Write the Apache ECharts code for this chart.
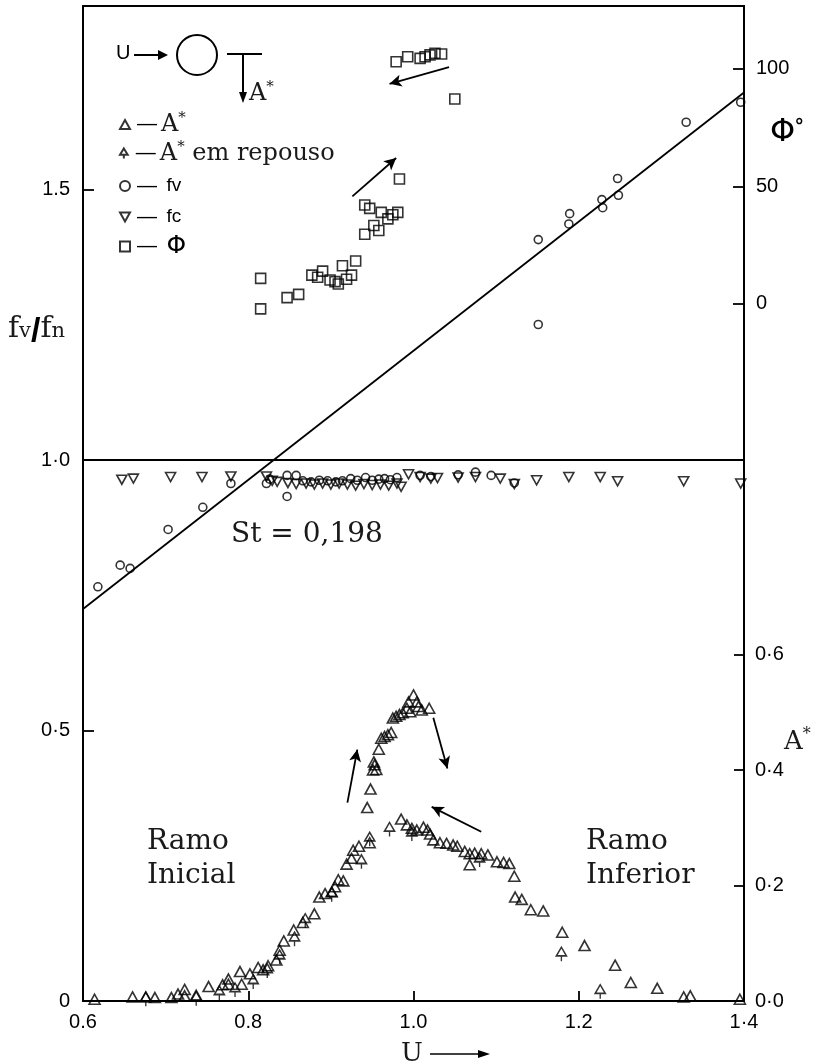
<!DOCTYPE html>
<html>
<head>
<meta charset="utf-8">
<script src="https://cdn.jsdelivr.net/npm/echarts@6/dist/echarts.min.js"></script>
<style>
  html, body { margin: 0; padding: 0; background: #fff; }
  #chart { width: 816px; height: 1064px; }
</style>
</head>
<body>
<div id="chart"></div>
<script>
// valores: [U, valor]
const fvPoints = [
  [0.618, 0.766], [0.645, 0.806], [0.657, 0.800], [0.703, 0.872], [0.745, 0.913],
  [0.779, 0.957], [0.822, 0.957], [0.826, 0.965], [0.847, 0.972], [0.847, 0.933],
  [0.858, 0.972], [0.866, 0.962], [0.876, 0.960], [0.886, 0.963], [0.896, 0.962],
  [0.906, 0.960], [0.914, 0.962], [0.924, 0.966], [0.932, 0.963], [0.942, 0.968],
  [0.950, 0.963], [0.958, 0.965], [0.965, 0.966], [0.972, 0.964], [0.980, 0.968],
  [1.008, 0.972], [1.021, 0.970], [1.054, 0.973], [1.075, 0.978], [1.094, 0.972],
  [1.122, 0.958], [1.151, 1.251], [1.151, 1.408], [1.188, 1.437], [1.189, 1.456],
  [1.228, 1.482], [1.229, 1.467], [1.247, 1.521], [1.248, 1.490], [1.330, 1.625],
  [1.396, 1.662]
];
const fcPoints = [
  [0.647, 0.964], [0.661, 0.966], [0.706, 0.969], [0.744, 0.969], [0.779, 0.970],
  [0.822, 0.970], [0.829, 0.962], [0.835, 0.960], [0.848, 0.958], [0.858, 0.956],
  [0.870, 0.957], [0.880, 0.955], [0.890, 0.957], [0.900, 0.955], [0.910, 0.957],
  [0.920, 0.955], [0.930, 0.953], [0.940, 0.956], [0.950, 0.954], [0.960, 0.955],
  [0.970, 0.953], [0.980, 0.957], [0.985, 0.951], [0.994, 0.974], [1.008, 0.969],
  [1.021, 0.966], [1.029, 0.967], [1.054, 0.968], [1.075, 0.969], [1.105, 0.966],
  [1.122, 0.956], [1.149, 0.963], [1.188, 0.969], [1.226, 0.969], [1.247, 0.961],
  [1.327, 0.961], [1.396, 0.957]
];
const phiPoints = [
  [0.815, 10.9], [0.815, -2.1], [0.847, 2.7], [0.861, 4.1], [0.877, 12.3],
  [0.884, 11.4], [0.890, 14.0], [0.899, 10.2], [0.905, 9.5], [0.909, 8.5],
  [0.914, 16.3], [0.919, 10.5], [0.925, 12.3], [0.930, 18.3], [0.941, 29.7],
  [0.941, 42.1], [0.947, 40.7], [0.952, 33.4], [0.958, 31.3], [0.961, 39.0],
  [0.969, 36.2], [0.975, 38.0], [0.981, 39.0], [0.983, 53.2], [0.979, 103.1],
  [0.993, 105.2], [1.008, 104.5], [1.014, 105.2], [1.020, 106.0], [1.026, 106.7],
  [1.034, 106.4], [1.050, 87.2]
];
const ampPoints = [
  [0.614, 0.003], [0.660, 0.007], [0.676, 0.007], [0.687, 0.006], [0.707, 0.006],
  [0.715, 0.012], [0.723, 0.020], [0.723, 0.009], [0.737, 0.010], [0.752, 0.025],
  [0.769, 0.028], [0.776, 0.038], [0.776, 0.029], [0.790, 0.051], [0.792, 0.029],
  [0.802, 0.047], [0.812, 0.058], [0.818, 0.054], [0.824, 0.061], [0.834, 0.071],
  [0.838, 0.088], [0.843, 0.104], [0.855, 0.123], [0.866, 0.136], [0.880, 0.151],
  [0.886, 0.180], [0.893, 0.186], [0.901, 0.189], [0.905, 0.198], [0.909, 0.210],
  [0.915, 0.208], [0.919, 0.237], [0.925, 0.247], [0.927, 0.261], [0.934, 0.268],
  [0.947, 0.274],
  [0.944, 0.335], [0.948, 0.367], [0.951, 0.400], [0.953, 0.409], [0.955, 0.401],
  [0.952, 0.414], [0.958, 0.436], [0.961, 0.455], [0.965, 0.458], [0.969, 0.461],
  [0.973, 0.465], [0.975, 0.490], [0.979, 0.493], [0.983, 0.496], [0.987, 0.499],
  [0.992, 0.507], [0.994, 0.518], [1.000, 0.530], [1.004, 0.518], [1.006, 0.510],
  [0.996, 0.501], [1.010, 0.504], [1.019, 0.507],
  [0.985, 0.315], [0.992, 0.305], [0.998, 0.299], [1.004, 0.296], [1.012, 0.301],
  [1.017, 0.296], [1.020, 0.289], [1.024, 0.279], [1.032, 0.274], [1.040, 0.273],
  [1.048, 0.270], [1.053, 0.268], [1.062, 0.259], [1.068, 0.255], [1.074, 0.256],
  [1.082, 0.255], [1.090, 0.253], [1.068, 0.236], [1.101, 0.241], [1.109, 0.240],
  [1.116, 0.238], [1.122, 0.216], [1.123, 0.180], [1.131, 0.176], [1.142, 0.158],
  [1.157, 0.156], [1.180, 0.119], [1.207, 0.096], [1.244, 0.062], [1.263, 0.032],
  [1.295, 0.022], [1.327, 0.007], [1.335, 0.009], [1.395, 0.003]
];
const restPoints = [
  [0.676, 0.003], [0.737, 0.004], [0.765, 0.014], [0.784, 0.019], [0.806, 0.033],
  [0.823, 0.052], [0.838, 0.076], [0.856, 0.107], [0.869, 0.139], [0.901, 0.184],
  [0.937, 0.241], [0.947, 0.280], [0.971, 0.297], [0.998, 0.289], [1.080, 0.244],
  [1.179, 0.081], [1.226, 0.016]
];
// reta St = 0,198
const stLine = [[0.6, 0.725], [1.4, 1.68]];

const xTicks = [0.6, 0.8, 1.0, 1.2, 1.4];
const xTickLabels = ['0.6', '0.8', '1.0', '1.2', '1·4'];
const fTicks = [0, 0.5, 1.0, 1.5];
const fTickLabels = ['0', '0·5', '1·0', '1.5'];
const ampTicks = [0, 0.2, 0.4, 0.6];
const ampTickLabels = ['0·0', '0·2', '0·4', '0·6'];
const phiTicks = [0, 50, 100];
const phiTickLabels = ['0', '50', '100'];

const SERIF = "'DejaVu Serif', serif";
const SANS = "'Liberation Sans', Arial, sans-serif";
const TXT = '#1a1a1a';

const triUp = 'path://M5,0 L10,9 L0,9 Z';
const triDown = 'path://M0,0 L10,0 L5,9 Z';
const triStem = 'path://M5,0 L10,8 L0,8 Z M5,8 L5,13';

function lookup(ticks, labels) {
  return function (v) {
    for (let i = 0; i < ticks.length; i++) {
      if (Math.abs(ticks[i] - v) < 1e-6) return labels[i];
    }
    return '';
  };
}

const markerStyle = { color: 'rgba(255,255,255,0)', borderColor: '#000', borderWidth: 1.6 };
const labelFont = { fontFamily: SANS, fontSize: 20, color: '#000' };

// setas de anotação (coordenadas no eixo fv/fn)
const arrowSegs = [
  [[1.043, 1.727], [0.971, 1.696]],
  [[0.926, 1.488], [0.979, 1.559]],
  [[0.920, 0.367], [0.932, 0.465]],
  [[1.024, 0.524], [1.041, 0.430]],
  [[1.082, 0.313], [1.022, 0.359]]
];

// legenda: uma linha por componente para controlar o espaçamento
const legendRich = {
  d: { fontFamily: SANS, fontSize: 20, color: '#000', padding: [0, 4, 0, 2] },
  s: { fontFamily: SERIF, fontSize: 24, color: TXT },
  sup: { fontFamily: SERIF, fontSize: 15, color: TXT, padding: [0, 0, 12, 0] },
  t: { fontFamily: SANS, fontSize: 19, color: '#000' },
  p: { fontFamily: "'DejaVu Sans', sans-serif", fontSize: 25, color: '#000' }
};
const legendRows = [
  { name: 'A*', icon: triUp, text: '{d|—}{s|A}{sup|*}', top: 111 },
  { name: 'A* em repouso', icon: triStem, text: '{d|—}{s|A}{sup|*}{s| em repouso}', top: 140 },
  { name: 'fv', icon: 'circle', text: '{d|— }{t|fv}', top: 176 },
  { name: 'fc', icon: triDown, text: '{d|— }{t|fc}', top: 207 },
  { name: 'Φ', icon: 'rect', text: '{d|— }{p|Φ}', top: 234 }
];
const legends = legendRows.map(function (r) {
  return {
    left: 119,
    top: r.top,
    padding: 0,
    itemWidth: 10,
    itemHeight: 10,
    selectedMode: false,
    data: [{ name: r.name, icon: r.icon }],
    formatter: function () { return r.text; },
    textStyle: { color: TXT, rich: legendRich }
  };
});

const chart = echarts.init(document.getElementById('chart'));

const options = {
  animation: false,
  backgroundColor: '#fff',
  grid: {
    left: 83, right: 72, top: 6, bottom: 63,
    show: true, borderColor: '#000', borderWidth: 1.8, backgroundColor: 'transparent'
  },
  legend: legends,
  xAxis: {
    type: 'value',
    min: 0.6,
    max: 1.4,
    interval: 0.2,
    axisLine: { lineStyle: { color: '#000', width: 2 } },
    axisTick: { inside: true, length: 10, lineStyle: { color: '#000', width: 1.8 } },
    axisLabel: Object.assign({ margin: 11, formatter: lookup(xTicks, xTickLabels) }, labelFont),
    splitLine: { show: false }
  },
  yAxis: [
    {
      type: 'value',
      min: 0,
      max: 1.84,
      axisLine: { show: true, lineStyle: { color: '#000', width: 2 } },
      axisTick: { show: true, inside: true, length: 11, customValues: fTicks, lineStyle: { color: '#000', width: 1.8 } },
      axisLabel: Object.assign({ margin: 13, customValues: fTicks, formatter: lookup(fTicks, fTickLabels) }, labelFont),
      splitLine: { show: false }
    },
    {
      type: 'value',
      position: 'right',
      min: 0,
      max: 1.723,
      axisLine: { show: true, lineStyle: { color: '#000', width: 2 } },
      axisTick: { show: true, inside: true, length: 10, customValues: ampTicks, lineStyle: { color: '#000', width: 1.8 } },
      axisLabel: Object.assign({ margin: 11, customValues: ampTicks, formatter: lookup(ampTicks, ampTickLabels) }, labelFont),
      splitLine: { show: false }
    },
    {
      type: 'value',
      position: 'right',
      min: -296.6,
      max: 126.8,
      axisLine: { show: true, lineStyle: { color: '#000', width: 2 } },
      axisTick: { show: true, inside: true, length: 11, customValues: phiTicks, lineStyle: { color: '#000', width: 1.8 } },
      axisLabel: Object.assign({ margin: 12, customValues: phiTicks, formatter: lookup(phiTicks, phiTickLabels) }, labelFont),
      splitLine: { show: false }
    }
  ],
  series: [
    {
      name: 'St',
      type: 'line',
      yAxisIndex: 0,
      data: stLine,
      symbol: 'none',
      lineStyle: { color: '#000', width: 1.8 },
      z: 1,
      markLine: {
        silent: true,
        symbol: ['none', 'arrow'],
        symbolSize: [9, 12],
        label: { show: false },
        lineStyle: { color: '#000', width: 1.8, type: 'solid' },
        data: arrowSegs.map(function (s) {
          return [{ coord: s[0] }, { coord: s[1] }];
        })
      }
    },
    {
      name: 'A*', type: 'scatter', yAxisIndex: 1, data: ampPoints,
      symbol: triUp, symbolSize: [11, 10], itemStyle: markerStyle
    },
    {
      name: 'A* em repouso', type: 'scatter', yAxisIndex: 1, data: restPoints,
      symbol: triStem, symbolSize: [10, 14], itemStyle: markerStyle
    },
    {
      name: 'fv', type: 'scatter', yAxisIndex: 0, data: fvPoints,
      symbol: 'circle', symbolSize: 8, itemStyle: markerStyle,
      markLine: {
        silent: true,
        symbol: 'none',
        label: { show: false },
        lineStyle: { color: '#000', width: 2, type: 'solid' },
        data: [{ yAxis: 1.0 }]
      }
    },
    {
      name: 'fc', type: 'scatter', yAxisIndex: 0, data: fcPoints,
      symbol: triDown, symbolSize: [10, 9], itemStyle: markerStyle
    },
    {
      name: 'Φ', type: 'scatter', yAxisIndex: 2, data: phiPoints,
      symbol: 'rect', symbolSize: 10, itemStyle: markerStyle
    }
  ],
  graphic: [
    // esquema do cilindro
    { type: 'text', left: 116, top: 43, style: { text: 'U', font: '20px ' + SANS, fill: '#000' } },
    { type: 'line', shape: { x1: 134, y1: 55, x2: 160, y2: 55 }, style: { stroke: '#000', lineWidth: 2 } },
    { type: 'polygon', shape: { points: [[158, 50], [168, 55], [158, 60]] }, style: { fill: '#000' } },
    { type: 'circle', shape: { cx: 197, cy: 55, r: 20 }, style: { stroke: '#000', fill: 'none', lineWidth: 2 } },
    { type: 'line', shape: { x1: 227, y1: 54, x2: 262, y2: 54 }, style: { stroke: '#000', lineWidth: 2 } },
    { type: 'line', shape: { x1: 243, y1: 54, x2: 243, y2: 94 }, style: { stroke: '#000', lineWidth: 2 } },
    { type: 'polygon', shape: { points: [[239, 92], [243, 103], [247, 92]] }, style: { fill: '#000' } },
    {
      type: 'text', left: 249, top: 80,
      style: {
        text: '{a|A}{b|*}', fill: TXT,
        rich: { a: { font: '24px ' + SERIF, fill: TXT }, b: { font: '15px ' + SERIF, fill: TXT, padding: [0, 0, 12, 0] } }
      }
    },
    // títulos dos eixos
    {
      type: 'text', left: 8, top: 314,
      style: {
        text: '{f|f}{s|v}{l|/}{f|f}{s|n}', fill: TXT,
        rich: {
          f: { font: '30px ' + SERIF, fill: TXT, padding: [0, 0, 6, 0] },
          s: { font: '21px ' + SERIF, fill: TXT },
          l: { font: 'bold 34px ' + SANS, fill: '#000' }
        }
      }
    },
    {
      type: 'text', left: 770, top: 116,
      style: {
        text: '{p|Φ}{o|°}', fill: '#000',
        rich: { p: { font: '32px \'DejaVu Sans\', sans-serif', fill: '#000' }, o: { font: 'bold 20px ' + SANS, fill: '#000', padding: [0, 0, 14, 0] } }
      }
    },
    {
      type: 'text', left: 784, top: 727,
      style: {
        text: '{a|A}{b|*}', fill: TXT,
        rich: { a: { font: '26px ' + SERIF, fill: TXT }, b: { font: '16px ' + SERIF, fill: TXT, padding: [0, 0, 14, 0] } }
      }
    },
    { type: 'text', left: 401, top: 1041, style: { text: 'U', font: '26px ' + SERIF, fill: TXT } },
    { type: 'line', shape: { x1: 430, y1: 1054, x2: 482, y2: 1054 }, style: { stroke: '#000', lineWidth: 1.5 } },
    { type: 'polygon', shape: { points: [[478, 1050], [490, 1054], [478, 1058]] }, style: { fill: '#000' } },
    // anotações
    { type: 'text', left: 231, top: 521, style: { text: 'St = 0,198', font: '28px ' + SERIF, fill: TXT } },
    { type: 'text', left: 147, top: 828, style: { text: 'Ramo', font: '28px ' + SERIF, fill: TXT } },
    { type: 'text', left: 147, top: 862, style: { text: 'Inicial', font: '28px ' + SERIF, fill: TXT } },
    { type: 'text', left: 586, top: 828, style: { text: 'Ramo', font: '28px ' + SERIF, fill: TXT } },
    { type: 'text', left: 586, top: 862, style: { text: 'Inferior', font: '28px ' + SERIF, fill: TXT } }
  ]
};

chart.setOption(options);
</script>
</body>
</html>
